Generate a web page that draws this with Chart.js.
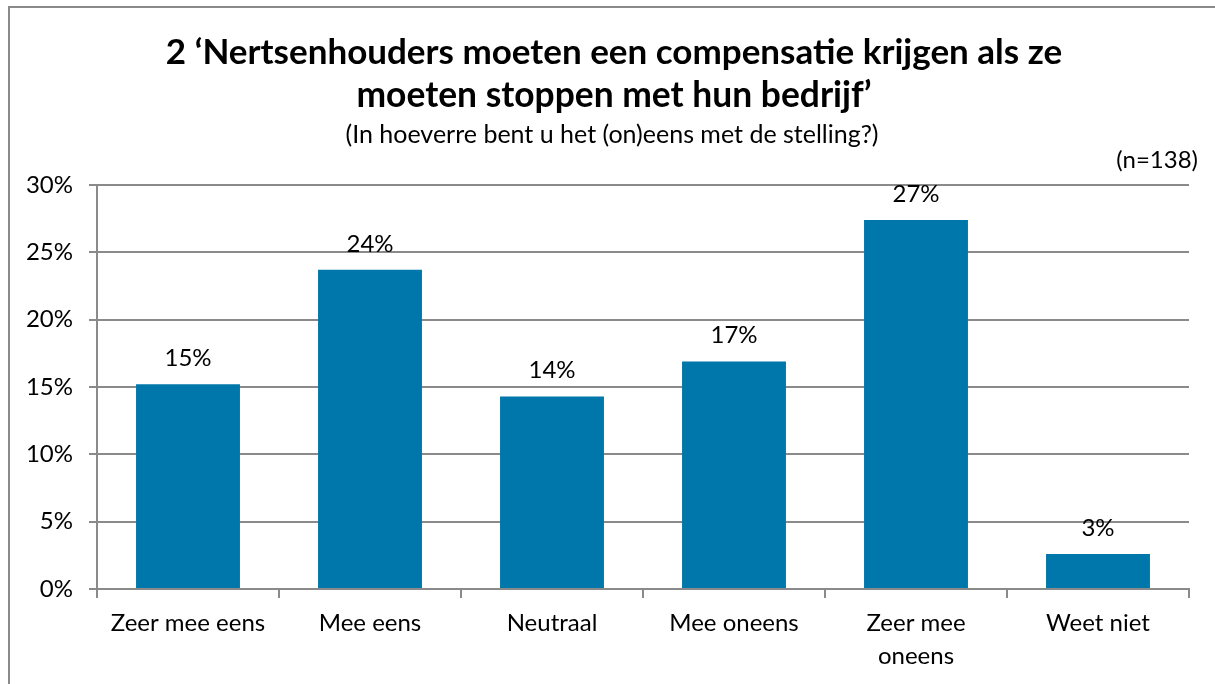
<!DOCTYPE html>
<html>
<head>
<meta charset="utf-8">
<script src="https://cdn.jsdelivr.net/npm/chart.js@4/dist/chart.umd.min.js"></script>
<style>
  html, body { margin: 0; padding: 0; background: #fff; }
  #wrap { position: relative; width: 1215px; height: 684px; overflow: hidden; }
  #frame { position: absolute; left: 8px; top: 6px; width: 1300px; height: 800px; border: 2px solid #8a8a8a; box-sizing: border-box; }
  canvas { position: absolute; left: 0; top: 0; }
</style>
</head>
<body>
<div id="wrap">
  <div id="frame"></div>
  <canvas id="c" width="1215" height="684"></canvas>
</div>
<script>
const categories = [
  'Zeer mee eens',
  'Mee eens',
  'Neutraal',
  'Mee oneens',
  ['Zeer mee', 'oneens'],
  'Weet niet'
];
const values = [15.2, 23.7, 14.3, 16.9, 27.4, 2.6];
const valueLabels = ['15%', '24%', '14%', '17%', '27%', '3%'];
const yTicks = [0, 5, 10, 15, 20, 25, 30];
const titleLines = ['2 \u2018Nertsenhouders moeten een compensatie krijgen als ze', 'moeten stoppen met hun bedrijf\u2019'];
const subtitleText = '(In hoeverre bent u het (on)eens met de stelling?)';
const sampleNote = '(n=138)';

const FONT = 'Lato, "Open Sans", sans-serif';
const GRID = '#8a8a8a';

const extras = {
  id: 'extras',
  afterDatasetsDraw(chart) {
    const ctx = chart.ctx;
    const meta = chart.getDatasetMeta(0);
    ctx.save();
    ctx.fillStyle = '#000';
    // titles
    ctx.textAlign = 'center';
    ctx.textBaseline = 'alphabetic';
    ctx.font = 'bold 35px ' + FONT;
    ctx.fillText(titleLines[0], 614, 64);
    ctx.font = 'bold 35.4px ' + FONT;
    ctx.fillText(titleLines[1], 614, 107);
    ctx.font = '25px ' + FONT;
    ctx.fillText(subtitleText, 612, 143);
    // value labels
    ctx.font = '24px ' + FONT;
    ctx.textBaseline = 'middle';
    meta.data.forEach((bar, i) => {
      ctx.fillText(valueLabels[i], bar.x, bar.y - 26);
    });
    ctx.textAlign = 'right';
    ctx.fillText(sampleNote, chart.chartArea.right + 9, 160);
    ctx.restore();
  }
};

new Chart(document.getElementById('c'), {
  type: 'bar',
  data: {
    labels: categories,
    datasets: [{
      data: values,
      backgroundColor: '#0077ab',
      borderWidth: 0,
      barPercentage: 0.571,
      categoryPercentage: 1
    }]
  },
  options: {
    responsive: false,
    animation: false,
    layout: { padding: { left: 0, right: 26, top: 185, bottom: 0 } },
    plugins: {
      legend: { display: false },
      tooltip: { enabled: false },
      title: { display: false }
    },
    scales: {
      x: {
        grid: { display: true, drawOnChartArea: false, drawTicks: true, tickLength: 9, color: GRID, lineWidth: 2, offset: true },
        border: { display: true, color: GRID, width: 2 },
        ticks: { color: '#000', font: { family: FONT, size: 24, lineHeight: 1.4 }, padding: 8, maxRotation: 0, autoSkip: false },
        afterFit(scale) { scale.height = 95; }
      },
      y: {
        min: 0, max: 30,
        afterBuildTicks(scale) { scale.ticks = yTicks.map(v => ({ value: v })); },
        grid: { color: GRID, lineWidth: 2, tickLength: 8 },
        border: { display: true, color: GRID, width: 2 },
        ticks: { color: '#000', font: { family: FONT, size: 24 }, padding: 16, callback: v => v + '%' },
        afterFit(scale) { scale.width = 97; }
      }
    }
  },
  plugins: [extras]
});
</script>
</body>
</html>
